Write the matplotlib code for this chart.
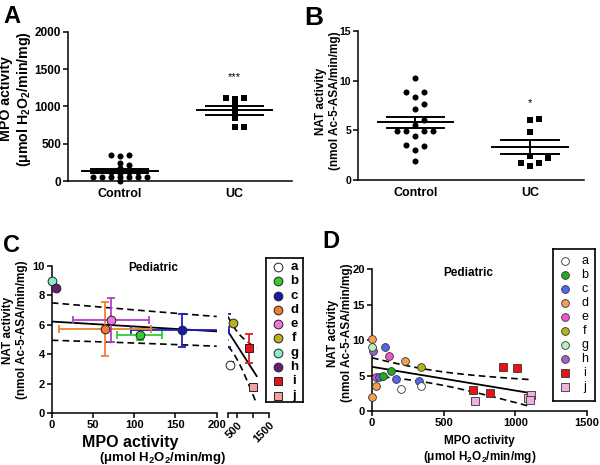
import numpy as np
import matplotlib
matplotlib.use("Agg")
import matplotlib.pyplot as plt

plt.rcParams['font.family'] = ['Liberation Sans', 'DejaVu Sans']
plt.rcParams['mathtext.default'] = 'regular'
plt.rcParams['axes.linewidth'] = 1.1

# ---------------- data ----------------
categories = ['Control', 'UC']
mpo_control = [350, 330, 345, 240, 220, 180, 125, 120, 115, 110,
               55, 55, 55, 55, 55, 55, 55, 0]
mpo_uc = [1120, 1100, 1110, 1020, 940, 850, 720, 730]
nat_control = [10.3, 8.9, 8.9, 8.4, 7.7, 7.1, 6.0, 5.5, 4.9, 4.9, 4.9, 4.9, 4.4, 3.5, 3.4, 3.0, 1.9]
nat_uc = [6.1, 6.0, 4.8, 2.4, 2.2, 1.7, 1.7, 1.4]

group_labels = ['a', 'b', 'c', 'd', 'e', 'f', 'g', 'h', 'i', 'j']
point_group = ['a', 'a', 'b', 'b', 'c', 'c', 'c', 'c', 'd', 'd', 'd', 'd',
               'e', 'e', 'f', 'g', 'h', 'i', 'i', 'i', 'i', 'j', 'j', 'j', 'j']
point_mpo = [205, 343, 79, 134, 88, 49, 169, 327, 0, 230, 26, 2,
             118, 26, 343, 0, 5, 708, 822, 912, 1011, 722, 1090, 1110, 1100]
point_nat = [3.05, 3.5, 4.97, 5.68, 8.97, 4.74, 4.5, 4.27, 10.2, 7.08, 3.52, 2.0,
             7.8, 4.83, 6.15, 8.97, 8.5, 2.96, 2.49, 6.15, 6.0, 1.45, 1.8, 2.25, 1.55]

# styles
group_marker = ['o'] * 8 + ['s', 's']
colors_C = ['white', '#33cc33', '#1a1aa8', '#f07a30', '#ee77dd', '#b8b020',
            '#88eec8', '#6a1b7a', '#e8141c', '#f4a0a0']
errcol_C = ['black', '#33cc33', '#2020c0', '#f08030', '#b040c8', '#b8b020',
            '#88eec8', '#6a1b7a', '#e02020', '#f4a0a0']
colors_D = ['white', '#22aa22', '#5566ee', '#f5a050', '#ee55cc', '#b5b515',
            '#b8f0b8', '#a060d0', '#ee1111', '#f0b0e0']
T_CRIT = 2.069  # t(0.975, df=23)

W, H = 600, 465
fig = plt.figure(figsize=(W / 100, H / 100), dpi=100)


def ax_px(l, r, t, b):
    return fig.add_axes([l / W, 1 - b / H, (r - l) / W, (b - t) / H])


def style_axes(ax, fs):
    ax.spines['top'].set_visible(False)
    ax.spines['right'].set_visible(False)
    ax.tick_params(axis='both', direction='out', length=3.5, width=1.1,
                   labelsize=fs, pad=1.5)
    for lab in ax.get_xticklabels() + ax.get_yticklabels():
        lab.set_fontweight('bold')


def swarm(vals, ux, uy, step, thr):
    vals = np.asarray(vals, float)
    order = np.argsort(vals, kind='stable')
    placed = []
    offs = np.zeros(len(vals))
    cands = [0.0]
    for k in range(1, 40):
        cands += [k * step, -k * step]
    for i in order:
        y = vals[i] * uy
        for c in cands:
            if all((c - px) ** 2 + (y - py) ** 2 >= thr * thr * 0.999 for px, py in placed):
                break
        placed.append((c, y))
        offs[i] = c / ux
    return offs


def mean_sem(v):
    v = np.asarray(v, float)
    if len(v) > 1:
        return v.mean(), v.std(ddof=1) / np.sqrt(len(v))
    return v.mean(), 0.0


def dotplot(ax, data, markers, sizes, ux, uy, step, thr):
    for i, (vals, mk, sz) in enumerate(zip(data, markers, sizes)):
        off = swarm(vals, ux, uy, step, thr)
        ax.scatter(i + off, vals, marker=mk, s=sz, color='black', linewidths=0,
                   clip_on=False, zorder=3)
        m, s = mean_sem(vals)
        ax.plot([i - 0.33, i + 0.33], [m, m], color='k', lw=1.4, zorder=4)
        ax.plot([i - 0.25, i + 0.25], [m + s, m + s], color='k', lw=1.4, zorder=4)
        ax.plot([i - 0.25, i + 0.25], [m - s, m - s], color='k', lw=1.4, zorder=4)
        ax.plot([i, i], [m - s, m + s], color='k', lw=1.4, zorder=4)


# ---------------- Panel A ----------------
axA = ax_px(68, 292, 32, 181)
dotplot(axA, [mpo_control, mpo_uc], ['o', 's'], [19, 24], 115, 149 / 2000, 9.0, 4.0)
axA.set_xlim(-0.45, 1.5)
axA.set_ylim(0, 2000)
axA.set_yticks([0, 500, 1000, 1500, 2000])
axA.set_xticks([0, 1])
axA.set_xticklabels(categories)
style_axes(axA, 8.5)
axA.tick_params(axis='x', length=0, labelsize=9, pad=5)
axA.text(1, 1330, '***', ha='center', va='bottom', fontsize=8)
fig.text(16 / W, 1 - 99 / H, 'MPO activity\n(\u03bcmol H$_2$O$_2$/min/mg)', rotation=90,
         ha='center', va='center', multialignment='center', fontsize=10.2,
         fontweight='bold', linespacing=1.15)
fig.text(3 / W, 1 - 23 / H, 'A', fontsize=17, fontweight='bold', ha='left', va='baseline')

# ---------------- Panel B ----------------
axB = ax_px(358, 584, 31, 180)
dotplot(axB, [nat_control, nat_uc], ['o', 's'], [19, 24], 115, 149 / 15, 4.5, 9.0)
axB.set_xlim(-0.5, 1.47)
axB.set_ylim(0, 15)
axB.set_yticks([0, 5, 10, 15])
axB.set_xticks([0, 1])
axB.set_xticklabels(categories)
style_axes(axB, 7.5)
axB.tick_params(axis='x', length=0, labelsize=9, pad=5)
axB.text(1, 7.2, '*', ha='center', va='bottom', fontsize=8)
fig.text(328 / W, 1 - 101 / H, 'NAT activity\n(nmol Ac-5-ASA/min/mg)', rotation=90,
         ha='center', va='center', multialignment='center', fontsize=8.5,
         fontweight='bold', linespacing=1.15)
fig.text(304 / W, 1 - 25 / H, 'B', fontsize=19, fontweight='bold', ha='left', va='baseline')

# ---------------- regression (from individual points) ----------------
px_all = np.asarray(point_mpo, float)
py_all = np.asarray(point_nat, float)
n_all = len(px_all)
slope, intercept = np.polyfit(px_all, py_all, 1)
resid = py_all - (intercept + slope * px_all)
s_res = np.sqrt(np.sum(resid ** 2) / (n_all - 2))
xbar = px_all.mean()
sxx = np.sum((px_all - xbar) ** 2)


def fit_band(xg):
    yh = intercept + slope * xg
    se = s_res * np.sqrt(1 / n_all + (xg - xbar) ** 2 / sxx)
    return yh, yh + T_CRIT * se, yh - T_CRIT * se


# group means
grp_stats = []
for g in group_labels:
    xs = [x for x, gg in zip(point_mpo, point_group) if gg == g]
    ys = [y for y, gg in zip(point_nat, point_group) if gg == g]
    mx, sx = mean_sem(xs)
    my, sy = mean_sem(ys)
    grp_stats.append((mx, sx, my, sy, len(xs)))

# ---------------- Panel C ----------------
axC1 = ax_px(51.7, 216.7, 266, 413)
axC2 = ax_px(228, 269, 266, 413)
xmax = px_all.max()
for ax, (x0, x1) in [(axC1, (0, 200)), (axC2, (200, xmax))]:
    xg = np.linspace(x0, x1, 100)
    yh, yu, yl = fit_band(xg)
    ax.plot(xg, yh, color='k', lw=1.3, zorder=2)
    ax.plot(xg, yu, color='k', lw=1.2, ls=(0, (4, 2.5)), zorder=2)
    ax.plot(xg, yl, color='k', lw=1.2, ls=(0, (4, 2.5)), zorder=2)
    for i, (mx, sx, my, sy, n) in enumerate(grp_stats):
        if n > 1:
            ax.errorbar([mx], [my], xerr=[sx], yerr=[sy], fmt='none', ecolor=errcol_C[i],
                        elinewidth=1.3, capsize=2.6, capthick=1.3, zorder=3)
        if (ax is axC1 and mx <= 200) or (ax is axC2 and mx > 200):
            ax.plot([mx], [my], marker=group_marker[i], ms=6.3, mfc=colors_C[i],
                    mec='#222222', mew=0.7, ls='none', clip_on=False, zorder=4)

axC1.set_xlim(0, 200)
axC1.set_ylim(0, 10)
axC1.set_xticks([0, 50, 100, 150, 200])
axC1.set_yticks([0, 2, 4, 6, 8, 10])
style_axes(axC1, 8)
axC2.set_xlim(200, 1500)
axC2.set_ylim(0, 10)
axC2.set_xticks([200, 500, 1000, 1500])
axC2.set_xticklabels(['', '500', '', '1500'])
axC2.set_yticks([])
axC2.spines['left'].set_visible(False)
style_axes(axC2, 8)
for lab in axC2.get_xticklabels():
    lab.set_rotation(45)
    lab.set_ha('right')
    lab.set_rotation_mode('anchor')
fig.text(153 / W, 1 - 268 / H, 'Pediatric', ha='center', va='center', fontsize=8.5,
         fontweight='bold')
fig.text(15 / W, 1 - 330 / H, 'NAT activity\n(nmol Ac-5-ASA/min/mg)', rotation=90,
         ha='center', va='center', multialignment='center', fontsize=8.5,
         fontweight='bold', linespacing=1.15)
fig.text(130 / W, 1 - 442 / H, 'MPO activity', ha='center', va='center', fontsize=11.5,
         fontweight='bold')
fig.text(163 / W, 1 - 457.5 / H, '(\u03bcmol H$_2$O$_2$/min/mg)', ha='center', va='center',
         fontsize=9.5, fontweight='bold')
fig.text(3 / W, 1 - 252 / H, 'C', fontsize=17, fontweight='bold', ha='left', va='baseline')

# legend C
axLC = ax_px(266, 303, 258, 402)
axLC.set_xlim(0, 1)
axLC.set_ylim(1, 0)
axLC.set_xticks([])
axLC.set_yticks([])
for sp in axLC.spines.values():
    sp.set_linewidth(1.2)
for i, g in enumerate(group_labels):
    yy = 0.0625 + i * (0.956 - 0.0625) / 9
    axLC.plot([0.32], [yy], marker=group_marker[i], ms=6.3, mfc=colors_C[i], mec='#222222',
              mew=0.7, ls='none')
    axLC.text(0.76, yy, g, ha='center', va='center', fontsize=9.5, fontweight='bold')

# ---------------- Panel D ----------------
axD = ax_px(372, 587, 269, 411)
xg = np.linspace(px_all.min(), px_all.max(), 100)
yh, yu, yl = fit_band(xg)
axD.plot(xg, yh, color='k', lw=1.3, zorder=2)
axD.plot(xg, yu, color='k', lw=1.2, ls=(0, (4, 2.5)), zorder=2)
axD.plot(xg, yl, color='k', lw=1.2, ls=(0, (4, 2.5)), zorder=2)
for i in range(len(group_labels) - 1, -1, -1):
    g = group_labels[i]
    xs = [x for x, gg in zip(point_mpo, point_group) if gg == g]
    ys = [y for y, gg in zip(point_nat, point_group) if gg == g]
    axD.plot(xs, ys, marker=group_marker[i], ms=5.6, mfc=colors_D[i], mec='#333333',
             mew=0.6, ls='none', clip_on=False, zorder=4)
axD.set_xlim(0, 1500)
axD.set_ylim(0, 20)
axD.set_xticks([0, 500, 1000, 1500])
axD.set_yticks([0, 5, 10, 15, 20])
style_axes(axD, 8)
fig.text(468 / W, 1 - 273 / H, 'Pediatric', ha='center', va='center', fontsize=8.5,
         fontweight='bold')
fig.text(340 / W, 1 - 333 / H, 'NAT activity\n(nmol Ac-5-ASA/min/mg)', rotation=90,
         ha='center', va='center', multialignment='center', fontsize=8.5,
         fontweight='bold', linespacing=1.15)
fig.text(479 / W, 1 - 441 / H, 'MPO activity', ha='center', va='center', fontsize=8.5,
         fontweight='bold')
fig.text(480 / W, 1 - 457 / H, '(\u03bcmol H$_2$O$_2$/min/mg)', ha='center', va='center',
         fontsize=8.5, fontweight='bold')
fig.text(322 / W, 1 - 248 / H, 'D', fontsize=17, fontweight='bold', ha='left', va='baseline')

# legend D
axLD = ax_px(553, 595, 249, 401)
axLD.set_xlim(0, 1)
axLD.set_ylim(1, 0)
axLD.set_xticks([])
axLD.set_yticks([])
for sp in axLD.spines.values():
    sp.set_linewidth(1.2)
for i, g in enumerate(group_labels):
    yy = 0.077 + i * (0.91 - 0.077) / 9
    axLD.plot([0.286], [yy], marker=group_marker[i], ms=5.6, mfc=colors_D[i], mec='#333333',
              mew=0.6, ls='none')
    axLD.text(0.76, yy, g, ha='center', va='center', fontsize=9)

fig.savefig('out.png', dpi=100)
